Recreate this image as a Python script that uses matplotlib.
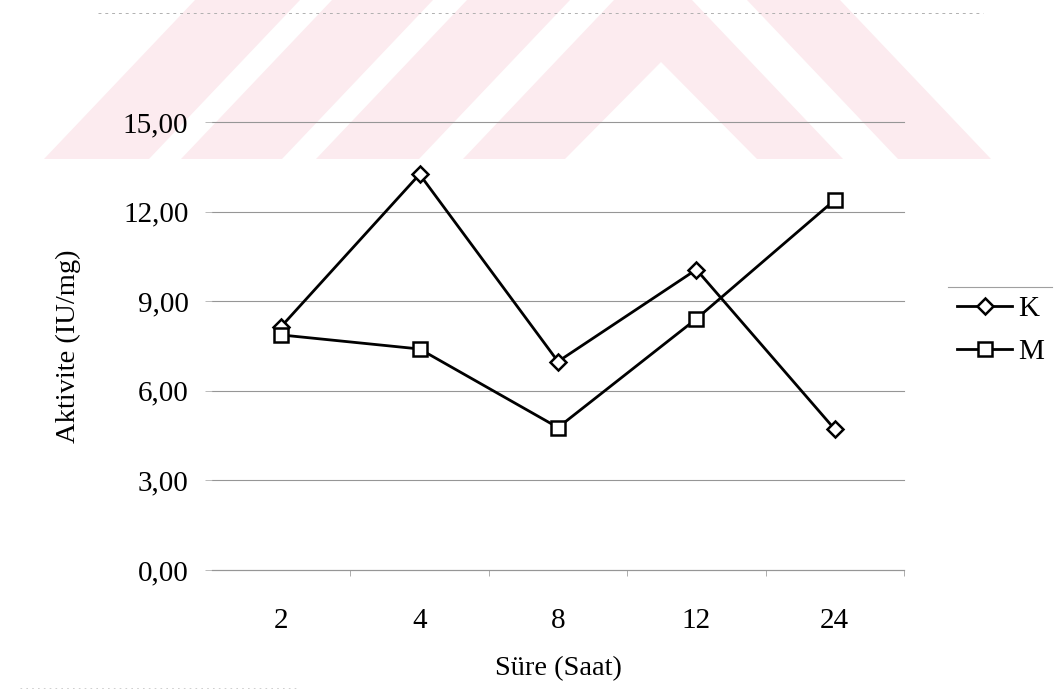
import matplotlib
matplotlib.use("Agg")
import matplotlib.pyplot as plt
from matplotlib.patches import Polygon
from matplotlib.lines import Line2D
from matplotlib.ticker import FixedLocator, FuncFormatter

# ---- data ----
categories = ["2", "4", "8", "12", "24"]
K_values = [8.15, 13.25, 6.98, 10.06, 4.71]
M_values = [7.87, 7.40, 4.77, 8.41, 12.39]
series_names = ["K", "M"]
y_ticks = [0, 3, 6, 9, 12, 15]
x_label = "Süre (Saat)"
y_label = "Aktivite (IU/mg)"

W, H = 1059, 691
plt.rcParams['font.family'] = ['Liberation Serif', 'DejaVu Serif']

fig = plt.figure(figsize=(W / 100, H / 100), dpi=100)
fig.patch.set_facecolor('white')


def px(x, y):
    return (x / W, 1 - y / H)


# ---- background watermark (decorative) ----
wm_color = '#fcebef'
wm_shapes = [
    [(44, 159), (195, 0), (300, 0), (149, 159)],
    [(181, 159), (332, 0), (433, 0), (282, 159)],
    [(316, 159), (467, 0), (570, 0), (419, 159)],
    [(463, 159), (614, 0), (692, 0), (843, 159), (757, 159), (661, 62), (565, 159)],
    [(898, 159), (747, 0), (840, 0), (991, 159)],
]
for shp in wm_shapes:
    fig.patches.append(Polygon([px(*p) for p in shp], closed=True,
                               transform=fig.transFigure, facecolor=wm_color,
                               edgecolor='none', zorder=-10))

# faint chart-area borders
fig.add_artist(Line2D([98 / W, 983 / W], [1 - 13 / H, 1 - 13 / H],
                      transform=fig.transFigure, color='#b0b0b0', lw=0.7,
                      linestyle=(0, (3, 4)), zorder=-5))
fig.add_artist(Line2D([20 / W, 300 / W], [1 - 688 / H, 1 - 688 / H],
                      transform=fig.transFigure, color='#c8c8c8', lw=0.6,
                      linestyle=(0, (2, 5)), zorder=-5))

# ---- axes ----
left, right, top, bottom = 212, 904, 122, 570
ax = fig.add_axes([left / W, 1 - bottom / H, (right - left) / W, (bottom - top) / H])
ax.set_facecolor('none')
ax.set_zorder(1)

grid_color = '#969696'
for v in y_ticks:
    ax.axhline(v, color=grid_color, lw=0.8, zorder=1, clip_on=False)

ax.plot(categories, K_values, color='black', lw=2.0, marker='D', markersize=8,
        markerfacecolor='white', markeredgecolor='black', markeredgewidth=1.8,
        label=series_names[0], zorder=3)
ax.plot(categories, M_values, color='black', lw=2.0, marker='s', markersize=10,
        markerfacecolor='white', markeredgecolor='black', markeredgewidth=1.8,
        label=series_names[1], zorder=3)

ax.set_xlim(-0.5, len(categories) - 0.5)
ax.set_ylim(0, 15)
ax.yaxis.set_major_locator(FixedLocator(y_ticks))
ax.yaxis.set_major_formatter(FuncFormatter(lambda v, p: f"{v:.2f}".replace('.', ',')))

for s in ['top', 'right', 'left']:
    ax.spines[s].set_visible(False)
ax.spines['bottom'].set_color(grid_color)
ax.spines['bottom'].set_linewidth(0.8)

ax.tick_params(axis='y', direction='out', length=5, width=0.6, color='#b0b0b0',
               labelsize=21, pad=12)
ax.tick_params(axis='x', which='major', length=0, labelsize=21, pad=27)
ax.xaxis.set_minor_locator(FixedLocator([i + 0.5 for i in range(len(categories))]))
ax.tick_params(axis='x', which='minor', direction='out', length=4, width=0.6,
               color='#a0a0a0')

ax.set_xlabel(x_label, fontsize=20.5, labelpad=16)
ax.set_ylabel(y_label, fontsize=20.5, labelpad=30)

# ---- legend ----
leg = fig.legend(loc='upper left', bbox_to_anchor=px(957, 296), frameon=False,
                 fontsize=21, handlelength=1.9, handletextpad=0.2,
                 labelspacing=0.55, borderpad=0, borderaxespad=0)
fig.add_artist(Line2D([948 / W, 1052 / W], [1 - 287 / H, 1 - 287 / H],
                      transform=fig.transFigure, color='#a0a0a0', lw=0.8))

fig.savefig('out.png', dpi=100)
